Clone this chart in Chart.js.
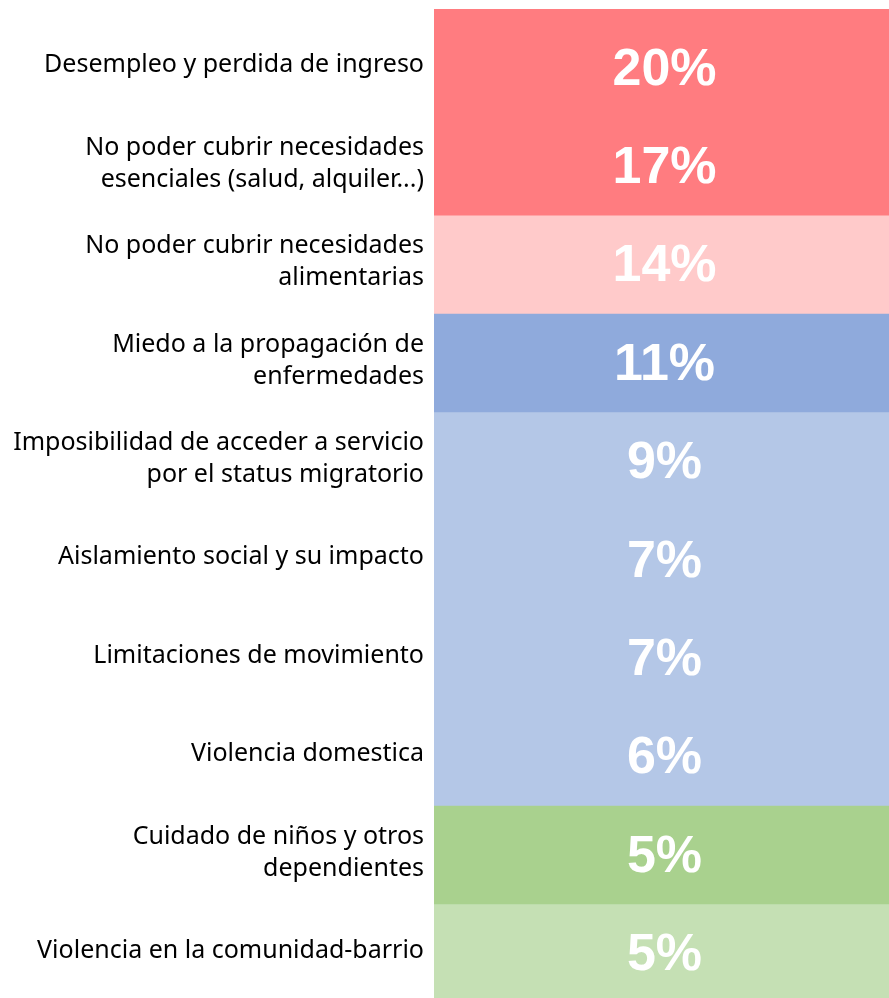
<!DOCTYPE html>
<html>
<head>
<meta charset="utf-8">
<script src="https://cdn.jsdelivr.net/npm/chart.js@4.4.0/dist/chart.umd.min.js"></script>
<style>
  html, body { margin: 0; padding: 0; background: #fff; overflow: hidden; }
  #wrap { width: 889px; height: 1004px; }
</style>
</head>
<body>
<div id="wrap"><canvas id="chart_concerns"></canvas></div>
<script>
// categories, top to bottom
var categories = [
    ['Desempleo y perdida de ingreso'],
    ['No poder cubrir necesidades', 'esenciales (salud, alquiler...)'],
    ['No poder cubrir necesidades', 'alimentarias'],
    ['Miedo a la propagación de', 'enfermedades'],
    ['Imposibilidad de acceder a servicio', 'por el status migratorio'],
    ['Aislamiento social y su impacto'],
    ['Limitaciones de movimiento'],
    ['Violencia domestica'],
    ['Cuidado de niños y otros', 'dependientes'],
    ['Violencia en la comunidad-barrio']
];
var shares = [20, 17, 14, 11, 9, 7, 7, 6, 5, 5];
var cellColors = [
    '#FF7C80', '#FF7C80', '#FFCACA', '#8FAADC', '#B4C7E7',
    '#B4C7E7', '#B4C7E7', '#B4C7E7', '#A9D18E', '#C5E0B4'
];

// the top cell runs a little above the first row, as in the sheet
var topBand = 10;

var cellExtras = {
    id: 'cellExtras',
    beforeDatasetsDraw: function(chart) {
        var ctx = chart.ctx;
        var first = chart.getDatasetMeta(0).data[0];
        ctx.save();
        ctx.fillStyle = cellColors[0];
        ctx.fillRect(first.base, chart.chartArea.top - topBand, first.x - first.base, topBand);
        ctx.restore();
    },
    afterDatasetsDraw: function(chart) {
        var ctx = chart.ctx;
        var meta = chart.getDatasetMeta(0);
        ctx.save();
        ctx.fillStyle = '#ffffff';
        ctx.font = 'bold 52px "Liberation Sans", Arial, sans-serif';
        ctx.textAlign = 'center';
        ctx.textBaseline = 'middle';
        meta.data.forEach(function(bar, i) {
            var cx = (bar.base + bar.x) / 2;
            ctx.fillText(shares[i] + '%', cx + 3, bar.y + 2);
        });
        ctx.restore();
    }
};

var chart_concerns = new Chart(document.getElementById('chart_concerns'), {
    type: 'bar',
    data: {
        labels: categories,
        datasets: [{
            label: 'Preocupaciones',
            data: categories.map(function() { return 1; }),
            backgroundColor: cellColors,
            borderWidth: 0,
            categoryPercentage: 1,
            barPercentage: 1
        }]
    },
    options: {
        indexAxis: 'y',
        animation: false,
        responsive: true,
        maintainAspectRatio: false,
        layout: { padding: { top: 19, right: 0, bottom: 1, left: 0 } },
        plugins: {
            legend: { display: false },
            tooltip: { enabled: false }
        },
        scales: {
            x: { display: false, min: 0, max: 1 },
            y: {
                grid: { display: false, drawTicks: false },
                border: { display: false },
                ticks: {
                    color: '#000000',
                    padding: 10,
                    labelOffset: -3,
                    font: { family: '"Noto Sans", "Open Sans", sans-serif', size: 25, lineHeight: 1.28 }
                },
                afterFit: function(scale) {
                    scale.width = 434;
                    scale.paddingTop = 0;
                    scale.paddingBottom = 0;
                }
            }
        }
    },
    plugins: [cellExtras]
});
</script>
</body>
</html>
